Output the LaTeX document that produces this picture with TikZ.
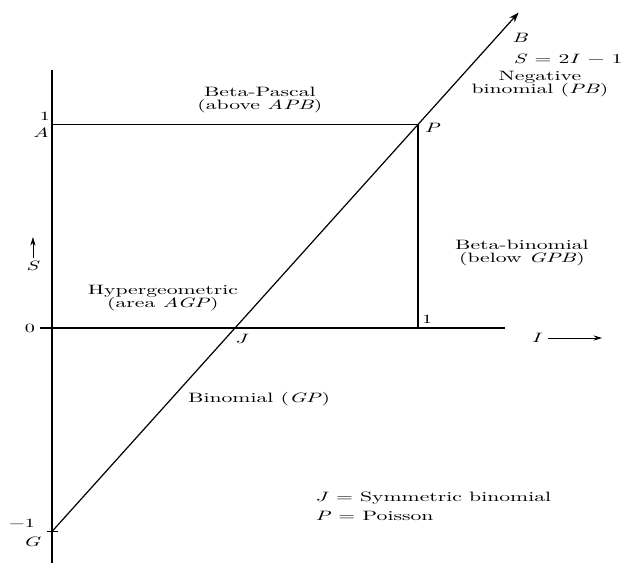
\documentclass[tikz,border=0pt]{standalone}
\usepackage{fontspec}
\setmainfont{lmroman10-regular.otf}[FakeStretch=1.6,
  ItalicFont=lmroman10-italic.otf]
\usepackage{tikz}
\usetikzlibrary{positioning,arrows.meta}

\tikzset{
  ax/.style={line width=1.2pt},
  lbl/.style={font=\fontsize{13.5}{13.5}\selectfont, align=center, inner sep=0pt},
  ticklbl/.style={font=\fontsize{12.5}{13}\selectfont, inner sep=0pt},
  dirarrow/.style={line width=0.8pt, -{Stealth[length=3mm,width=1.8mm]}}
}
\newcommand{\pt}[1]{\textit{#1}}

\begin{document}
\begin{tikzpicture}[x=12.81cm, y=7.1225cm]
    \useasboundingbox (-0.142,-1.1548) rectangle (1.5601,1.6118);
    % points of the I-S plane
    \coordinate (G) at (0,-1);
    \coordinate (J) at (0.5,0);
    \coordinate (P) at (1,1);
    \coordinate (A) at (0,1);
    \coordinate (Q) at (1,0);
    \coordinate (B) at (1.275,1.55);
    \coordinate (ytop) at (0,1.268);
    \coordinate (ybot) at (0,-1.1548);
    \coordinate (xl) at (-0.033,0);
    \coordinate (xr) at (1.238,0);

    \draw[ax] (ytop) -- (ybot);
    \draw[ax] (xl) -- (xr);
    \draw[ax] (A) -- (P) -- (Q);
    \draw[ax, -{Stealth[length=3.5mm,width=2.5mm]}] (G) -- (B);
    \draw[ax] (G) ++(-0.014,0) -- ++(0.03,0);

    % axis marks
    \node[ticklbl] (one) at (-0.019,1.040) {1};
    \node[lbl] (labA) at (-0.030,0.958) {\pt{A}};
    \node[ticklbl] (zero) at (-0.060,-0.003) {0};
    \node[ticklbl] (mone) at (-0.082,-0.960) {−1};
    \node[lbl] (labG) at (-0.055,-1.052) {\pt{G}};
    \node[lbl] (labJ) at (0.519,-0.054) {\pt{J}};
    \node[lbl] (labP) at (1.040,0.983) {\pt{P}};
    \node[ticklbl] (ione) at (1.025,0.042) {1};
    \node[lbl] (labB) at (1.279,1.425) {\pt{B}};
    \node[lbl] (line) at (1.410,1.322) {\pt{S} = 2\pt{I} − 1};

    % directions
    \node[lbl] (labI) at (1.325,-0.049) {\pt{I}};
    \coordinate (Iend) at (1.503,-0.049);
    \draw[dirarrow] (labI.east) ++(0.015,0) -- (Iend);
    \node[lbl] (labS) at (-0.052,0.305) {\pt{S}};
    \coordinate (Send) at (-0.052,0.447);
    \draw[dirarrow] (labS.north) ++(0,0.012) -- (Send);

    % regions
    \node[lbl] (pascal) at (0.568,1.120) {Beta-Pascal\\(above \pt{APB})};
    \node[lbl] (negbin) at (1.333,1.199) {Negative\\binomial (\pt{PB})};
    \node[lbl] (hyper) at (0.303,0.147) {Hypergeometric\\(area \pt{AGP})};
    \node[lbl] (betabin) at (1.284,0.369) {Beta-binomial\\(below \pt{GPB})};
    \node[lbl] (binom) at (0.566,-0.349) {Binomial (\pt{GP})};
    \node[lbl, align=left, anchor=west, font=\fontsize{13.5}{19}\selectfont]
      (legend) at (0.719,-0.877) {\pt{J} = Symmetric binomial\\\pt{P} = Poisson};
  \end{tikzpicture}
\end{document}
